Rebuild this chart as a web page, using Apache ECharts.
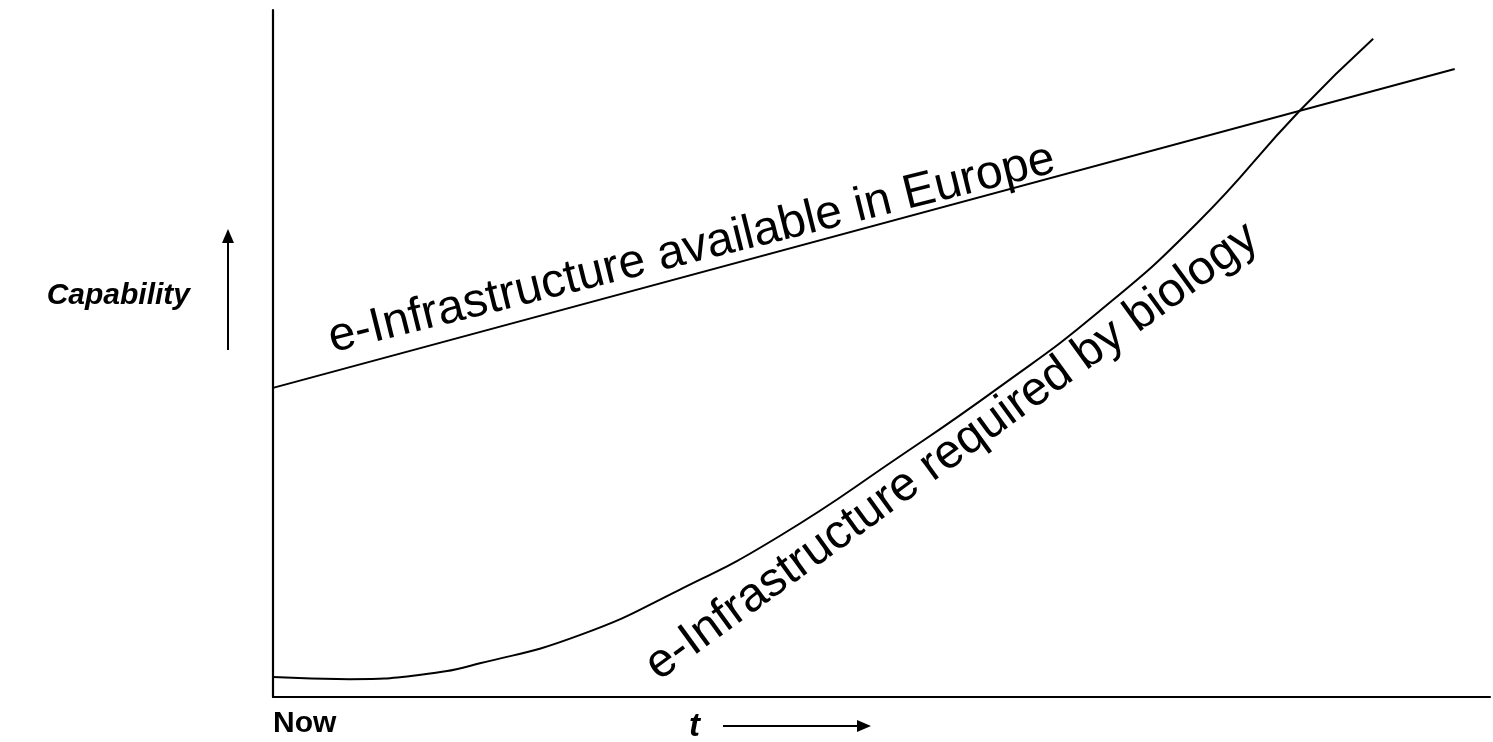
<!DOCTYPE html>
<html>
<head>
<meta charset="utf-8">
<script src="https://cdn.jsdelivr.net/npm/echarts@6/dist/echarts.min.js"></script>
<style>
html,body{margin:0;padding:0;background:#fff;}
#chart{width:1493px;height:742px;}
</style>
</head>
<body>
<div id="chart"></div>
<script>
// Values (x: time, 0..100 ; y: capability, 0..100)
const availableX = [0, 97.1];
const availableY = [45.0, 91.4];

const requiredX = [0, 6.3, 12.0, 17.0, 25.2, 33.4, 41.6, 51.4, 59.6, 67.8, 76.0, 84.4, 90.4];
const requiredY = [2.9, 2.6, 3.2, 4.9, 9.0, 15.6, 23.4, 34.9, 45.0, 56.0, 69.1, 85.4, 95.8];

const curveLabels = ['e-Infrastructure available in Europe', 'e-Infrastructure required by biology'];
const curveLabelX = [34.4, 55.8];
const curveLabelY = [65.2, 35.7];
const curveLabelAngle = [14, 36];

const xTickLabel = 'Now';
const xAxisTitle = 't';
const yAxisTitle = 'Capability';

const FONT = '"Liberation Sans", Arial, sans-serif';

const chart = echarts.init(document.getElementById('chart'), null, {renderer: 'canvas'});

function pairs(xs, ys) { return xs.map((x, i) => [x, ys[i]]); }

const option = {
  animation: false,
  backgroundColor: '#ffffff',
  grid: {left: 273, top: 10, right: 0, bottom: 45, containLabel: false},
  xAxis: {
    type: 'value', min: 0, max: 100, interval: 100,
    axisLine: {show: true, lineStyle: {color: '#000', width: 2.2}},
    axisTick: {show: false},
    splitLine: {show: false},
    axisLabel: {
      show: true, margin: 12, align: 'left',
      fontFamily: FONT, fontWeight: 'bold', fontSize: 30, color: '#000',
      formatter: v => (v === 0 ? xTickLabel : '')
    }
  },
  yAxis: {
    type: 'value', min: 0, max: 100,
    axisLine: {show: true, lineStyle: {color: '#000', width: 2.2}},
    axisTick: {show: false},
    splitLine: {show: false},
    axisLabel: {show: false}
  },
  series: [
    {
      type: 'line', data: pairs(availableX, availableY),
      symbol: 'none', lineStyle: {color: '#000', width: 2}
    },
    {
      type: 'line', data: pairs(requiredX, requiredY),
      symbol: 'none', smooth: 0.5,
      lineStyle: {color: '#000', width: 2}
    },
    {
      type: 'scatter',
      data: curveLabels.map((t, i) => ({
        name: t, value: [curveLabelX[i], curveLabelY[i]],
        label: {rotate: curveLabelAngle[i]}
      })),
      symbolSize: 1,
      itemStyle: {color: 'rgba(0,0,0,0)', opacity: 1},
      label: {
        show: true, position: 'inside', formatter: p => p.name,
        fontFamily: FONT, fontSize: 48, color: '#000', opacity: 1,
        align: 'center', verticalAlign: 'middle'
      },
      silent: true
    }
  ],
  graphic: [
    {type: 'text', x: 190, y: 296, style: {
      text: yAxisTitle, font: 'italic bold 30px ' + FONT, fill: '#000',
      textAlign: 'right', textVerticalAlign: 'middle'}},
    {type: 'line', shape: {x1: 228, y1: 350, x2: 228, y2: 242}, style: {stroke: '#000', lineWidth: 2}},
    {type: 'polygon', shape: {points: [[222, 243], [228, 229], [234, 243]]}, style: {fill: '#000'}},
    {type: 'text', x: 689, y: 727, style: {
      text: xAxisTitle, font: 'italic bold 33px ' + FONT, fill: '#000',
      textAlign: 'left', textVerticalAlign: 'middle'}},
    {type: 'line', shape: {x1: 723, y1: 726, x2: 859, y2: 726}, style: {stroke: '#000', lineWidth: 2}},
    {type: 'polygon', shape: {points: [[857, 720], [871, 726], [857, 732]]}, style: {fill: '#000'}}
  ]
};
chart.setOption(option);
</script>
</body>
</html>
